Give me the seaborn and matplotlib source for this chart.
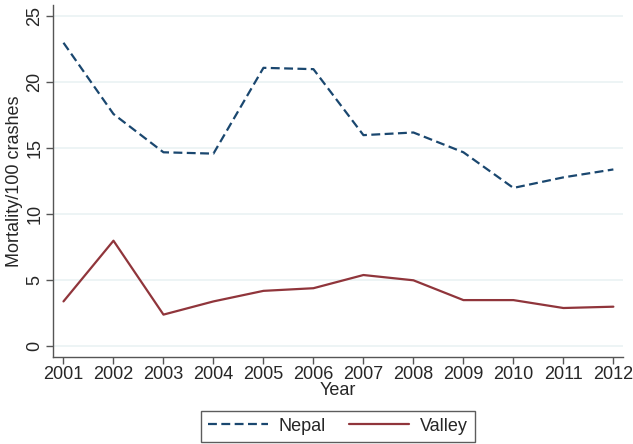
import pandas as pd
import matplotlib
matplotlib.use("Agg")
import matplotlib.pyplot as plt
import seaborn as sns

# data
years = [2001, 2002, 2003, 2004, 2005, 2006, 2007, 2008, 2009, 2010, 2011, 2012]
nepal = [23.0, 17.6, 14.7, 14.6, 21.1, 21.0, 16.0, 16.2, 14.7, 12.0, 12.8, 13.4]
valley = [3.4, 8.0, 2.4, 3.4, 4.2, 4.4, 5.4, 5.0, 3.5, 3.5, 2.9, 3.0]
series_names = ["Nepal", "Valley"]

df = pd.DataFrame({
    "Year": years * 2,
    "rate": nepal + valley,
    "area": [series_names[0]] * len(years) + [series_names[1]] * len(years),
})

sns.set_style("white")
plt.rcParams["font.family"] = ["Liberation Sans", "DejaVu Sans"]
FS = 13

fig = plt.figure(figsize=(6.33, 4.44), dpi=100)
ax = fig.add_axes([0.0837, 0.1966, 0.9003, 0.7921])

sns.lineplot(
    data=df, x="Year", y="rate", hue="area", style="area",
    palette={"Nepal": "#1a476f", "Valley": "#90353b"},
    dashes={"Nepal": (4, 2), "Valley": ""},
    linewidth=1.6, ax=ax,
)

ax.set_xlim(2000.79, 2012.19)
ax.set_ylim(-0.79, 25.86)
ax.set_xticks(years)
ax.set_yticks([0, 5, 10, 15, 20, 25])
ax.tick_params(axis="x", labelsize=FS, length=5, width=1, color="#555555", direction="out", bottom=True, pad=2)
ax.tick_params(axis="y", labelsize=FS, length=5, width=1, color="#555555", direction="out", left=True, pad=2)
plt.setp(ax.get_yticklabels(), rotation=90, va="center")
ax.grid(axis="y", color="#eaf2f3", linewidth=1.2)
ax.grid(axis="x", visible=False)
sns.despine(ax=ax)
for side in ["left", "bottom"]:
    ax.spines[side].set_color("#555555")
    ax.spines[side].set_linewidth(1)

ax.set_xlabel("Year", fontsize=FS, labelpad=-1)
ax.set_ylabel("Mortality/100 crashes", fontsize=FS, labelpad=2)

handles, labels = ax.get_legend_handles_labels()
leg = ax.legend(
    handles, labels, loc="upper center", bbox_to_anchor=(0.5, -0.153),
    ncol=2, frameon=True, fancybox=False, fontsize=FS, borderaxespad=0,
    handlelength=3.3, handletextpad=0.6, columnspacing=1.3, borderpad=0.4,
)
leg.get_frame().set_edgecolor("#333333")
leg.get_frame().set_linewidth(1)

fig.savefig("out.png", dpi=100)
